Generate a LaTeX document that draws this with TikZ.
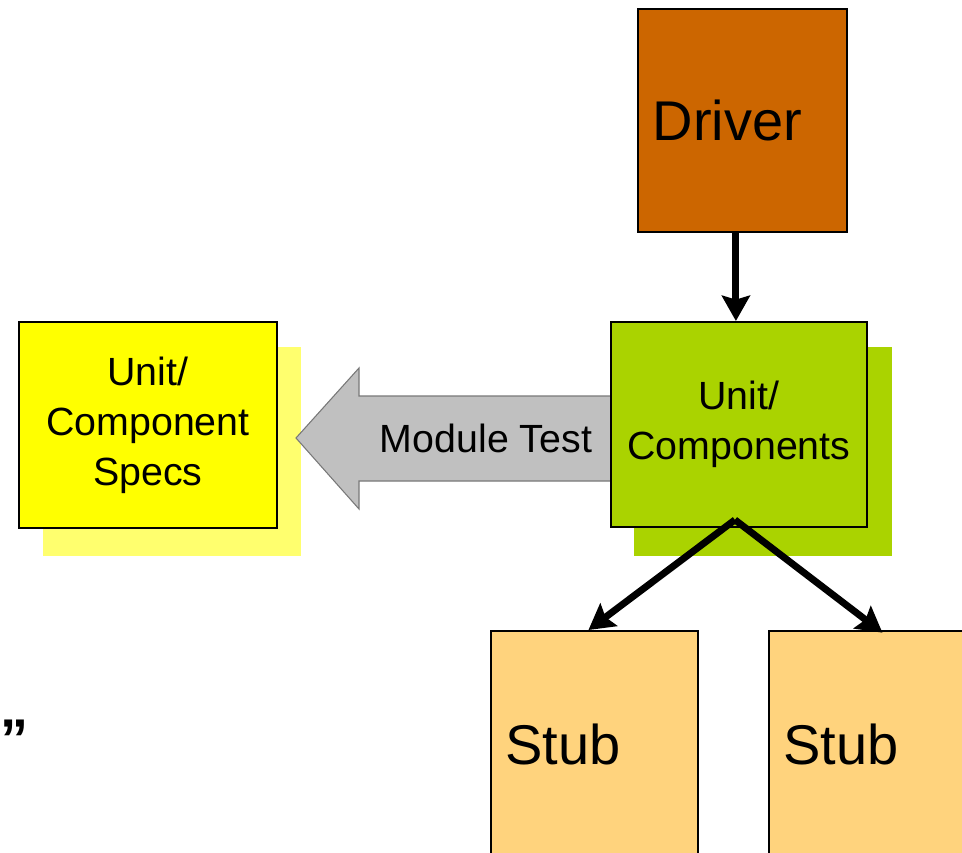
\documentclass[tikz,border=0pt]{standalone}
\usepackage{fontspec}
\setmainfont{Liberation Sans}
\usetikzlibrary{arrows.meta,calc}

\definecolor{specyellow}{RGB}{255,255,0}
\definecolor{specshadow}{RGB}{255,255,110}
\definecolor{unitgreen}{RGB}{170,211,0}
\definecolor{driverorange}{RGB}{204,102,0}
\definecolor{stubtan}{RGB}{255,211,125}
\definecolor{testgrey}{RGB}{192,192,192}
\definecolor{testedge}{RGB}{120,120,120}

\tikzset{
  box/.style={draw=black, line width=1.4pt, rectangle, anchor=north west, inner sep=0pt},
  bigtext/.style={font=\fontsize{42pt}{50pt}\selectfont, align=left, inner xsep=11pt},
  midtext/.style={font=\fontsize{29.5pt}{37.5pt}\selectfont, align=center},
  flow/.style={line width=5.2pt, -{Stealth[length=19pt,width=21pt,inset=3pt]}},
}

\begin{document}
\begin{tikzpicture}[x=0.75pt, y=-0.75pt]
  \clip (0,0) rectangle (962,852);

  % drop shadows behind the two unit boxes
  \fill[specshadow] (43,347) rectangle (301,556);
  \fill[unitgreen]  (634,347) rectangle (892,556);

  % the broad "Module Test" arrow
  \draw[fill=testgrey, draw=testedge, line width=0.8pt]
    (612,396) -- (359,396) -- (359,368) -- (296,438) -- (359,509) -- (359,481) -- (612,481) -- cycle;
  \node[midtext] (mt) at (486,438) {Module Test};

  % boxes
  \node[box, fill=specyellow, minimum width=193.5pt, minimum height=154.5pt, midtext]
    (spec) at (18,321) {Unit/\\Component\\Specs};
  \node[box, fill=unitgreen, minimum width=192pt, minimum height=153.75pt, midtext]
    (unit) at (610,321) {Unit/\\Components};
  \node[box, fill=driverorange, minimum width=156.75pt, minimum height=167.25pt,
        bigtext, text width=134.75pt]
    (driver) at (637,8) {Driver};
  \node[box, fill=stubtan, minimum width=155.25pt, minimum height=171pt,
        bigtext, text width=133.25pt]
    (stubA) at (490,630) {Stub};
  \node[box, fill=stubtan, minimum width=155.25pt, minimum height=171pt,
        bigtext, text width=133.25pt]
    (stubB) at (768,630) {Stub};

  % connectors
  \coordinate (fork) at ($(unit.south)+(-3pt,6pt)$);
  \draw[flow] ([xshift=-4.9pt]driver.south) -- ([xshift=-4.9pt]driver.south |- unit.north);
  \draw[flow] (fork) -- ([xshift=-4.5pt]stubA.north);
  \draw[flow] (fork) -- ([xshift=7.5pt,yshift=-2pt]stubB.north);

  % closing quote at the left edge
  \node[anchor=north west, inner sep=0pt, font=\fontsize{42pt}{50pt}\selectfont\bfseries]
    (quote) at (0,720) {”};
\end{tikzpicture}
\end{document}
